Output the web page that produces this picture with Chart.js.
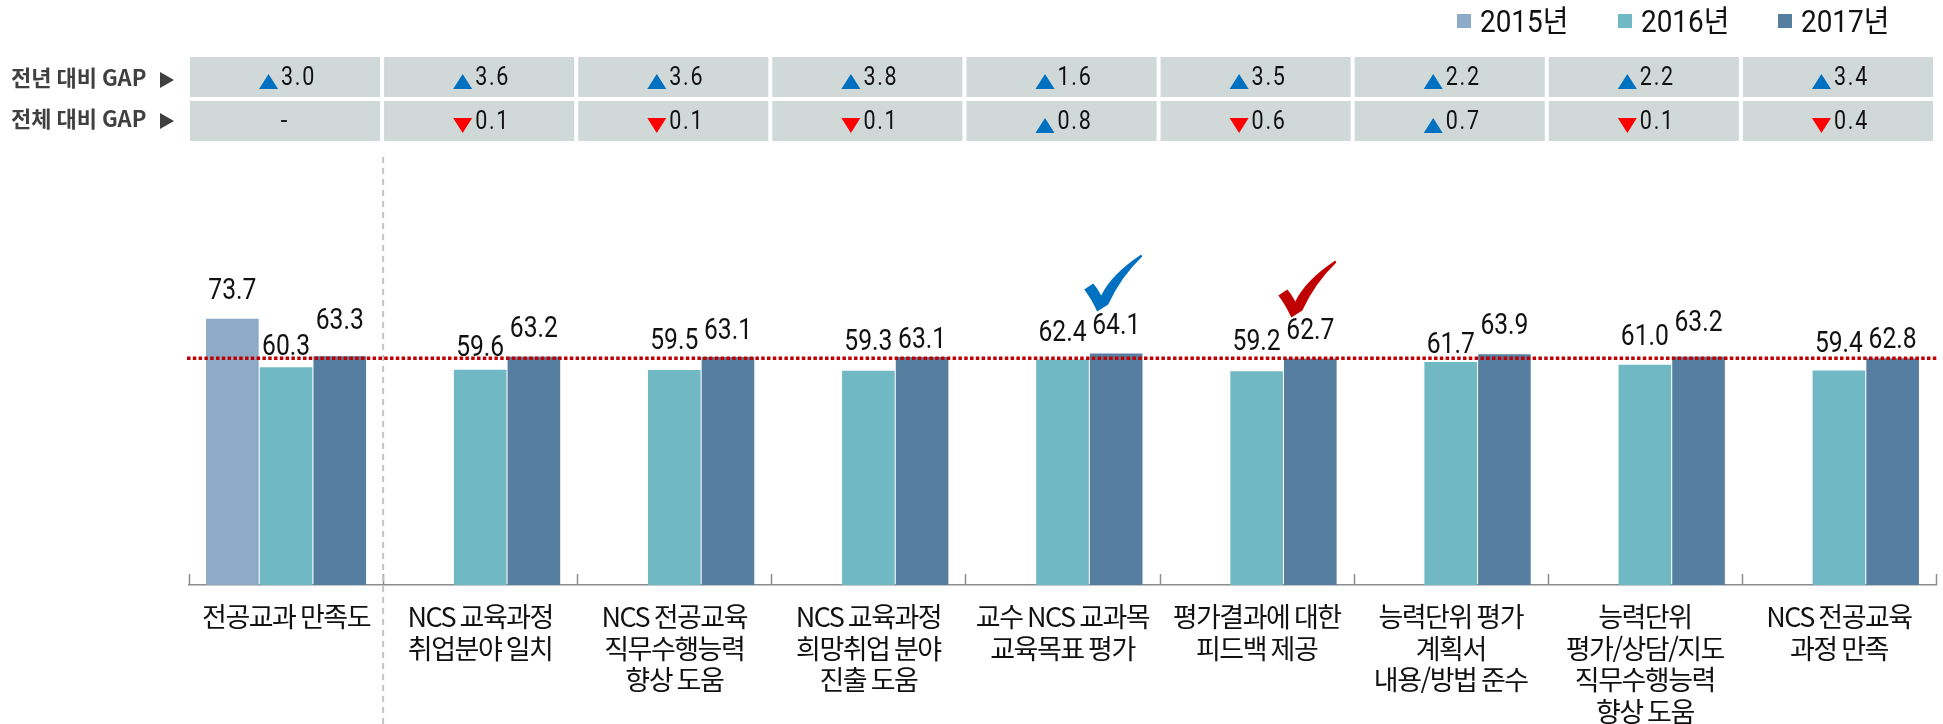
<!DOCTYPE html>
<html lang="ko">
<head>
<meta charset="utf-8">
<title>전공교과 만족도</title>
<script src="https://cdn.jsdelivr.net/npm/chart.js@4"></script>
<style>
    html, body { margin: 0; padding: 0; background: #fff; }
    canvas { display: block; }
</style>
</head>
<body>
<canvas id="myChart" width="1943" height="724"></canvas>
<script>
const categories = [
    ["전공교과 만족도"],
    ["NCS 교육과정", "취업분야 일치"],
    ["NCS 전공교육", "직무수행능력", "향상 도움"],
    ["NCS 교육과정", "희망취업 분야", "진출 도움"],
    ["교수 NCS 교과목", "교육목표 평가"],
    ["평가결과에 대한", "피드백 제공"],
    ["능력단위 평가", "계획서", "내용/방법 준수"],
    ["능력단위", "평가/상담/지도", "직무수행능력", "향상 도움"],
    ["NCS 전공교육", "과정 만족"]
];
const values2015 = [73.7, null, null, null, null, null, null, null, null];
const values2016 = [60.3, 59.6, 59.5, 59.3, 62.4, 59.2, 61.7, 61.0, 59.4];
const values2017 = [63.3, 63.2, 63.1, 63.1, 64.1, 62.7, 63.9, 63.2, 62.8];
const yearGap = [3.0, 3.6, 3.6, 3.8, 1.6, 3.5, 2.2, 2.2, 3.4];
const totalGap = [null, -0.1, -0.1, -0.1, 0.8, -0.6, 0.7, -0.1, -0.4];
const referenceLine = 62.8;

// how far each value label sits above its bar
const labelLift = [
    [27],
    [19, 21, 28, 28, 26, 28, 16, 27, 26],
    [35, 27, 25, 16, 27, 27, 27, 33, 17]
];

const FONT = 'Roboto, "Noto Sans CJK KR", sans-serif';
const KR_FONT = '"Noto Sans CJK KR", sans-serif';
const BLUE = "#0070c0";
const RED = "#ff0000";

// the source font is condensed, so squeeze the text sideways
function squeezedText(ctx, text, x, y, sx) {
    ctx.save();
    ctx.translate(x, y);
    ctx.scale(sx, 1);
    ctx.fillText(text, 0, 0);
    ctx.restore();
}

function triangle(ctx, x, y, w, h, up, color) {
    ctx.fillStyle = color;
    ctx.beginPath();
    if (up) {
        ctx.moveTo(x, y + h);
        ctx.lineTo(x + w / 2, y);
        ctx.lineTo(x + w, y + h);
    } else {
        ctx.moveTo(x, y);
        ctx.lineTo(x + w, y);
        ctx.lineTo(x + w / 2, y + h);
    }
    ctx.closePath();
    ctx.fill();
}

function checkMark(ctx, x, y, color) {
    // x, y = top right tip of the tick
    ctx.fillStyle = color;
    ctx.beginPath();
    ctx.moveTo(x, y);
    ctx.quadraticCurveTo(x - 30, y + 20, x - 40, y + 41);
    ctx.quadraticCurveTo(x - 45, y + 32, x - 48, y + 29);
    ctx.lineTo(x - 57, y + 35);
    ctx.quadraticCurveTo(x - 50, y + 44, x - 44, y + 57);
    ctx.lineTo(x - 33, y + 50);
    ctx.quadraticCurveTo(x - 20, y + 22, x + 1, y + 2);
    ctx.closePath();
    ctx.fill();
}

const extras = {
    id: "extras",
    beforeDraw(chart) {
        // tightens the axis labels
        chart.ctx.letterSpacing = "-1.5px";
    },
    afterDatasetsDraw(chart) {
        const ctx = chart.ctx;
        const xs = chart.scales.x;
        const ys = chart.scales.y;
        const catW = xs.getPixelForTick(1) - xs.getPixelForTick(0);

        ctx.save();
        ctx.letterSpacing = "0px";

        // category ticks pointing up from the axis
        ctx.strokeStyle = "#8c8c8c";
        ctx.lineWidth = 1.5;
        for (let i = 0; i <= categories.length; i++) {
            const x = Math.round(xs.left + i * catW) + 0.5;
            ctx.beginPath();
            ctx.moveTo(x, ys.bottom);
            ctx.lineTo(x, ys.bottom - 11);
            ctx.stroke();
        }

        // dashed separator after the first category
        ctx.strokeStyle = "#c4c4c4";
        ctx.lineWidth = 2;
        ctx.setLineDash([6, 5]);
        ctx.beginPath();
        ctx.moveTo(xs.left + catW, 157);
        ctx.lineTo(xs.left + catW, 724);
        ctx.stroke();

        // red reference line
        const refY = ys.getPixelForValue(referenceLine);
        ctx.strokeStyle = "#c00000";
        ctx.lineWidth = 3.5;
        ctx.setLineDash([3.5, 2.3]);
        ctx.beginPath();
        ctx.moveTo(xs.left - 2, refY);
        ctx.lineTo(xs.right + 1, refY);
        ctx.stroke();
        ctx.setLineDash([]);

        // value labels
        ctx.font = "29px " + FONT;
        ctx.fillStyle = "#111";
        ctx.textAlign = "center";
        ctx.textBaseline = "middle";
        chart.data.datasets.forEach((ds, d) => {
            chart.getDatasetMeta(d).data.forEach((bar, i) => {
                if (ds.data[i] === null) return;
                squeezedText(ctx, ds.data[i].toFixed(1), bar.x, bar.y - labelLift[d][i], 0.85);
            });
        });

        // check marks over the two highlighted items
        const bars2017 = chart.getDatasetMeta(2).data;
        checkMark(ctx, bars2017[4].x + 25, bars2017[4].y - 99, BLUE);
        checkMark(ctx, bars2017[5].x + 25, bars2017[5].y - 98, "#c00000");

        // GAP table on top
        ctx.textAlign = "left";
        [yearGap, totalGap].forEach((row, r) => {
            const top = r === 0 ? 57 : 101;
            row.forEach((v, i) => {
                const left = xs.left + i * catW;
                const center = left + catW / 2;
                ctx.fillStyle = "#d0d8d8";
                ctx.fillRect(left + 1, top, catW - 4, 40);
                ctx.font = "25px " + FONT;
                ctx.letterSpacing = "2px";
                ctx.fillStyle = "#111";
                if (v === null) {
                    ctx.textAlign = "center";
                    ctx.fillText("-", center - 1, top + 22);
                    ctx.textAlign = "left";
                    return;
                }
                squeezedText(ctx, Math.abs(v).toFixed(1), center - 5, top + 22, 0.86);
                if (v >= 0) triangle(ctx, center - 27, top + 17, 19, 15, true, BLUE);
                else triangle(ctx, center - 27, top + 17, 19, 15, false, RED);
            });
        });

        // row titles
        ctx.font = "bold 22px " + KR_FONT;
        ctx.letterSpacing = "0px";
        ctx.fillStyle = "#404040";
        ctx.fillText("전년 대비 GAP", 11, 78);
        ctx.fillText("전체 대비 GAP", 11, 119);
        [72, 113].forEach(y => {
            ctx.beginPath();
            ctx.moveTo(160, y);
            ctx.lineTo(174, y + 8);
            ctx.lineTo(160, y + 16);
            ctx.closePath();
            ctx.fill();
        });

        // legend, top right
        const legendX = [1457, 1618, 1778];
        ctx.font = "31px " + FONT;
        chart.data.datasets.forEach((ds, d) => {
            ctx.fillStyle = ds.backgroundColor;
            ctx.fillRect(legendX[d], 14, 14, 14);
            ctx.fillStyle = "#111";
            squeezedText(ctx, ds.label, legendX[d] + 23, 24, 0.9);
        });

        ctx.restore();
    }
};

const ctx = document.getElementById("myChart").getContext("2d");
const myChart = new Chart(ctx, {
    type: "bar",
    data: {
        labels: categories,
        datasets: [
            { label: "2015년", data: values2015, backgroundColor: "#8daac6" },
            { label: "2016년", data: values2016, backgroundColor: "#70b8c3" },
            { label: "2017년", data: values2017, backgroundColor: "#567ea0" }
        ]
    },
    options: {
        responsive: false,
        animation: false,
        categoryPercentage: 0.83,
        barPercentage: 0.98,
        layout: { padding: { left: 189, right: 7, top: 296, bottom: 0 } },
        plugins: {
            legend: { display: false },
            tooltip: { enabled: false }
        },
        scales: {
            x: {
                afterFit: scale => { scale.height = 139; },
                border: { color: "#8c8c8c", width: 1.5 },
                grid: { display: false },
                ticks: {
                    autoSkip: false,
                    maxRotation: 0,
                    padding: 8,
                    color: "#111",
                    font: { family: KR_FONT, size: 27, lineHeight: 1.167 }
                }
            },
            y: {
                display: false,
                min: 0,
                max: 80
            }
        }
    },
    plugins: [extras]
});
</script>
</body>
</html>
